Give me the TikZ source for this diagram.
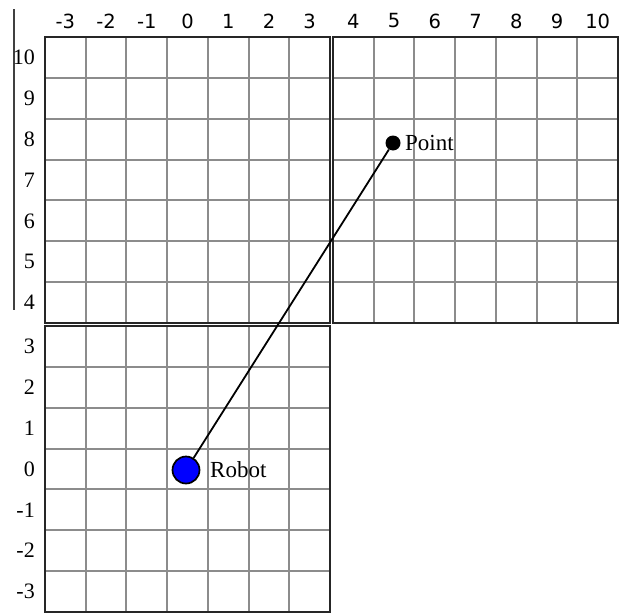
\documentclass[tikz,border=0pt]{standalone}
\usepackage{fontspec}
\setmainfont{Liberation Serif}
\newfontfamily\colfont{DejaVu Sans}
\newcommand\gridblock[2]{%
  \foreach \i in {1,...,6} {%
    \draw[gridline] ({#1+\i*40.714},#2) -- ++(0,286);
    \draw[gridline] (#1,{#2+\i*40.857}) -- ++(285,0);
  }
  \draw[border] (#1,#2) rectangle ++(285,286);
}
\begin{document}
\begin{tikzpicture}[x=1pt,y=-1pt,
  gridline/.style={draw=black!45, line width=2pt},
  border/.style={draw=black!85, line width=2.5pt},
  collabel/.style={font=\colfont\fontsize{19.5}{20}\selectfont, inner sep=0pt, text=black},
  rowlabel/.style={font=\fontsize{22}{22}\selectfont, inner sep=0pt, anchor=east, text=black},
  txtlabel/.style={font=\fontsize{23}{23}\selectfont, inner sep=0pt, anchor=west, text=black}]
\useasboundingbox (0,0) rectangle (623,613);
\fill[white] (0,0) rectangle (623,613);
% grid blocks
\gridblock{45}{37}
\gridblock{333}{37}
\gridblock{45}{326}
% stray vertical line at left
\coordinate (vtop) at (14,9);
\coordinate (vbot) at (14,310);
\draw[black!75, line width=1.3pt] (vtop) -- (vbot);
% column labels
\foreach \t [count=\k from 0] in {-3,-2,-1,0,1,2,3}
  \node[collabel] (col\k) at ({65.4+\k*40.714},21) {\t};
\foreach \t [count=\k from 0] in {4,5,6,7,8,9,10}
  \node[collabel] (colr\k) at ({353.4+\k*40.714},21) {\t};
% row labels
\foreach \t [count=\k from 0] in {10,9,8,7,6,5,4}
  \node[rowlabel] (row\k) at (35,{57.4+\k*40.857}) {\t};
\foreach \t [count=\k from 0] in {3,2,1,0,-1,-2,-3}
  \node[rowlabel] (rowb\k) at (35,{346.4+\k*40.857}) {\t};
% robot and point
\node[circle, fill=blue, draw=black, line width=1.7pt, minimum size=27pt, inner sep=0pt] (robot) at (186,470) {};
\node[circle, fill=black, minimum size=15pt, inner sep=0pt] (point) at (393,143) {};
\draw[black, line width=1.8pt] (robot) -- (point);
\node[txtlabel] (robotlbl) at (210,470) {Robot};
\node[txtlabel] (pointlbl) at (405,143) {Point};
\end{tikzpicture}
\end{document}
